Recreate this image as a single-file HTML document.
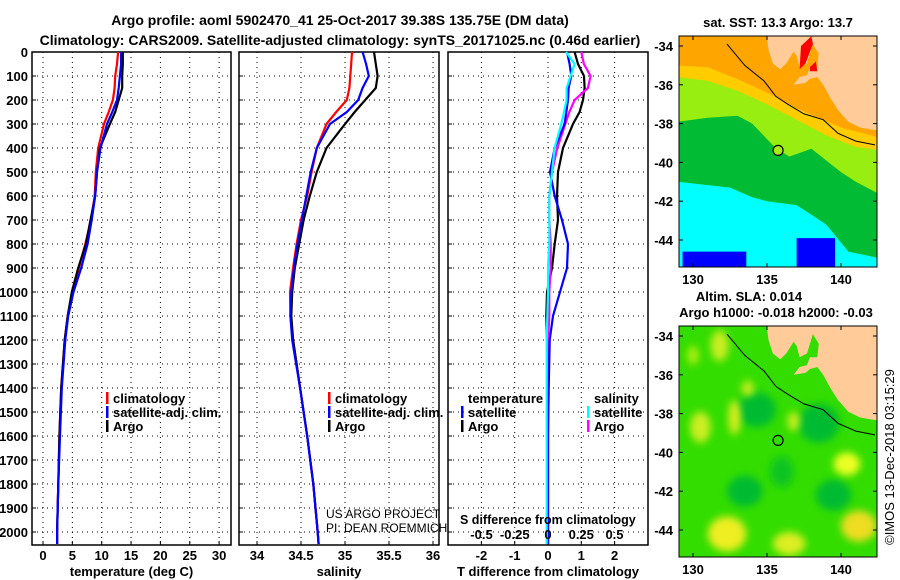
<!DOCTYPE html>
<html><head><meta charset="utf-8"><style>
html,body{margin:0;padding:0;background:#fff;}
svg{display:block;font-family:"Liberation Sans",sans-serif;}
.t{font-weight:bold;font-size:14px;fill:#000;}
.tk{font-weight:bold;font-size:13px;fill:#000;}
</style></head><body>
<svg id="c" width="900" height="580" viewBox="0 0 900 580" xmlns="http://www.w3.org/2000/svg">
<text class="t" x="340" y="25" text-anchor="middle">Argo profile: aoml 5902470_41 25-Oct-2017 39.38S 135.75E (DM data)</text>
<text class="t" x="340" y="45" text-anchor="middle">Climatology: CARS2009. Satellite-adjusted climatology: synTS_20171025.nc (0.46d earlier)</text>
<g id="panels"></g>
<g id="maps"></g>
</svg>
<script>
const depths=[0,50,100,150,200,250,300,400,500,600,700,800,900,1000,1100,1200,1400,1600,1800,2000,2050];
const tempArgo=[13.6,13.6,13.5,13.5,12.9,12.3,11.4,9.7,9.2,8.9,8.1,7.3,6.0,4.9,4.2,3.7,3.1,2.8,2.6,2.4,2.4];
const tempClim=[12.8,12.6,12.3,12.2,11.9,11.2,10.4,9.4,9.0,8.8,8.2,7.2,6.1,5.0,4.2,3.7,3.1,2.8,2.6,2.4,2.4];
const tempSat=[13.3,13.3,13.1,12.9,12.6,11.8,10.9,9.8,9.2,8.9,8.3,7.6,6.5,5.2,4.3,3.8,3.2,2.9,2.6,2.4,2.4];
const salArgo=[35.33,35.35,35.37,35.35,35.23,35.11,35.0,34.79,34.68,34.6,34.53,34.48,34.43,34.40,34.39,34.41,34.49,34.57,34.64,34.69,34.70];
const salClim=[35.08,35.07,35.06,35.05,35.02,34.9,34.79,34.68,34.62,34.57,34.5,34.45,34.41,34.375,34.38,34.41,34.49,34.57,34.64,34.69,34.70];
const salSat=[35.2,35.24,35.27,35.2,35.15,35.02,34.83,34.68,34.61,34.56,34.51,34.46,34.42,34.39,34.38,34.40,34.49,34.57,34.64,34.69,34.70];
const dTArgo=[0.8,0.9,1.08,1.1,1.05,0.95,0.75,0.45,0.3,0.27,0.3,0.2,0.12,-0.03,-0.05,-0.03,0,0,0,0,0];
const dSArgo=[0.25,0.27,0.32,0.3,0.2,0.16,0.13,0.07,0.03,0.01,0.01,0.02,0.02,0.01,0.01,0.0,0,0,0,0,0];
const dTSat=[0.57,0.65,0.7,0.62,0.6,0.55,0.5,0.2,0.06,0.2,0.42,0.6,0.57,0.36,0.15,0.05,0.02,0,0,0,0];
const dSSat=[0.135,0.2,0.17,0.14,0.14,0.12,0.1,0.05,0.03,0.01,0.01,0.01,0.0,0,-0.005,-0.01,-0.01,-0.01,-0.01,-0.01,-0.01];
const depthTicks=[0,100,200,300,400,500,600,700,800,900,1000,1100,1200,1300,1400,1500,1600,1700,1800,1900,2000];
const tempTicks=[0,5,10,15,20,25,30];
const salTicks=[34,34.5,35,35.5,36];
const dTTicks=[-2,-1,0,1,2];
const dSTicks=[-0.5,-0.25,0,0.25,0.5];
const dSTickLabels=["-0.5","-0.25","0","0.25","0.5"];

const NS="http://www.w3.org/2000/svg";
function mk(tag,attrs,parent){const e=document.createElementNS(NS,tag);for(const k in attrs)e.setAttribute(k,attrs[k]);parent.appendChild(e);return e;}
const Y=d=>52+d*0.24;
const P=document.getElementById('panels');
const panels=[
 {name:'temperature',x0:32,x1:231,X:v=>43+v*5.87,ticks:tempTicks,labels:tempTicks.map(String),xlabel:'temperature (deg C)'},
 {name:'salinity',x0:239,x1:439,X:v=>257+(v-34)*88,ticks:salTicks,labels:salTicks.map(String),xlabel:'salinity'},
 {name:'difference',x0:448,x1:648,X:v=>548+v*33.3,ticks:dTTicks,labels:dTTicks.map(String),xlabel:'T difference from climatology'}
];
const pTop=52,pBot=545;
panels.forEach((p,i)=>{
 const g=mk('g',{},P);
 
 
 p.ticks.forEach((t,j)=>{
  const x=p.X(t);
  const l=mk('line',{x1:x,x2:x,y1:pTop,y2:pBot,stroke:'#000','stroke-width':1,'stroke-dasharray':'1 4'},g);
  
  
  mk('line',{x1:x,x2:x,y1:pBot,y2:pBot-4,stroke:'#000'},g);
  const tx=mk('text',{x:x,y:pBot+15,'text-anchor':'middle',class:'tk'},g);
  tx.textContent=p.labels[j];
  
  
 });
 depthTicks.forEach(d=>{
  const y=Y(d);
  const l=mk('line',{x1:p.x0,x2:p.x1,y1:y,y2:y,stroke:'#000','stroke-width':1,'stroke-dasharray':'1 4'},g);
  
  
  mk('line',{x1:p.x0,x2:p.x0+4,y1:y,y2:y,stroke:'#000'},g);
  if(i==0){
   const tx=mk('text',{x:28,y:y+5,'text-anchor':'end',class:'tk'},g);
   tx.textContent=String(d);
   
   
  }
 });
 const r=mk('rect',{x:p.x0,y:pTop,width:p.x1-p.x0,height:pBot-pTop,fill:'none',stroke:'#000','stroke-width':1.5},g);
 
 
 const xl=mk('text',{x:(p.x0+p.x1)/2,y:576,'text-anchor':'middle',class:'tk'},g);
 xl.textContent=p.xlabel;
 
 
 p.g=g;
});
function line(p,vals,color,name,w){
 const pts=vals.map((v,k)=>p.X(v).toFixed(1)+','+Y(depths[k]).toFixed(1)).join(' ');
 const l=mk('polyline',{points:pts,fill:'none',stroke:color,'stroke-width':w||2.2},p.g);
 
 
}
line(panels[0],tempClim,'#f00','temp-climatology-line');
line(panels[0],tempArgo,'#000','temp-argo-line');
line(panels[0],tempSat,'#00f','temp-satellite-line');
line(panels[1],salClim,'#f00','sal-climatology-line');
line(panels[1],salArgo,'#000','sal-argo-line');
line(panels[1],salSat,'#00f','sal-satellite-line');
const pd=panels[2];const SX=v=>548+v*133;
line(pd,dTArgo,'#000','dT-argo-line');
line({X:SX,g:pd.g},dSArgo,'#f0f','dS-argo-line');
line(pd,dTSat,'#00f','dT-satellite-line');
line({X:SX,g:pd.g},dSSat,'#0ff','dS-satellite-line');
dSTicks.forEach((t,j)=>{
 const tx=mk('text',{x:SX(t),y:539,'text-anchor':'middle',class:'tk'},pd.g);
 tx.textContent=dSTickLabels[j];
 
 
});
const st=mk('text',{x:460,y:524,class:'tk','font-size':'12.5px',style:'font-size:12.5px'},pd.g);st.textContent='S difference from climatology';


function legend(g,x,y,color,label,name){
 const e=mk('g',{},g);
 
 
 mk('rect',{x:x,y:y-11,width:2.5,height:12,fill:color},e);
 const t=mk('text',{x:x+7,y:y,class:'tk'},e);t.textContent=label;
}
legend(panels[0].g,106,403,'#f00','climatology','legend-climatology');
legend(panels[0].g,106,417,'#00f','satellite-adj. clim.','legend-satellite');
legend(panels[0].g,106,431,'#000','Argo','legend-argo');
legend(panels[1].g,328,403,'#f00','climatology','legend-climatology');
legend(panels[1].g,328,417,'#00f','satellite-adj. clim.','legend-satellite');
legend(panels[1].g,328,431,'#000','Argo','legend-argo');
let tt=mk('text',{x:468,y:403,class:'tk'},pd.g);tt.textContent='temperature';


legend(pd.g,461,417,'#00f','satellite','legend-t-satellite');
legend(pd.g,461,431,'#000','Argo','legend-t-argo');
tt=mk('text',{x:594,y:403,class:'tk'},pd.g);tt.textContent='salinity';


legend(pd.g,587,417,'#0ff','satellite','legend-s-satellite');
legend(pd.g,587,431,'#f0f','Argo','legend-s-argo');
['US ARGO PROJECT','PI: DEAN ROEMMICH'].forEach((s,k)=>{
 const t=mk('text',{x:326,y:518+k*14,'font-size':'12px',fill:'#000'},panels[1].g);t.textContent=s;
 
 
});

// maps
const M=document.getElementById('maps');
const MX=lon=>693+(lon-130)*14.8;
function map(oy,kind){
 const MY=lat=>46+oy+(-34-lat)*19.4;
 const g=mk('g',{},M);
 
 
 const cid='clip'+oy;
 const cp=mk('clipPath',{id:cid},g);mk('rect',{x:679,y:36+oy,width:198,height:231},cp);
 const inner=mk('g',{'clip-path':'url(#'+cid+')'},g);
 const poly=(pts,fill)=>mk('polygon',{points:pts.map(p=>MX(p[0]).toFixed(1)+','+MY(p[1]).toFixed(1)).join(' '),fill:fill},inner);
 if(kind==='sst'){
  mk('rect',{x:679,y:36+oy,width:198,height:231,fill:'#00ffff'},inner);
  poly([[129,-33],[143,-33],[143,-45],[140.5,-44.6],[139,-43.2],[137,-42.2],[135,-42],[134,-41.8],[132.5,-41.3],[129,-41]],'#00bb33');
  poly([[129,-33],[143,-33],[143,-41.8],[141,-41],[140,-40.5],[138,-39.3],[136.5,-39.7],[135.5,-39.2],[134,-38],[133,-37.6],[131,-37.7],[129,-37.9]],'#99ee11');
  poly([[129,-33],[143,-33],[143,-39.4],[141,-39.2],[139,-38.6],[137,-37.8],[135,-37],[133,-36.3],[131,-35.8],[129,-35.6]],'#ffcc00');
  poly([[129,-33],[143,-33],[143,-38.8],[140,-38.2],[137,-37.2],[135,-36.4],[133,-35.7],[131,-35.1],[129,-35]],'#ffa500');
  poly([[129.3,-44.6],[133.6,-44.6],[133.6,-46],[129.3,-46]],'#0000ff');
  poly([[137,-43.9],[139.6,-43.9],[139.6,-46],[137,-46]],'#0000ff');
 } else {
  mk('rect',{x:679,y:36+oy,width:198,height:231,fill:'#33dd00'},inner);
  const f=mk('filter',{id:'bl',x:'-50%',y:'-50%',width:'200%',height:'200%'},g);mk('feGaussianBlur',{stdDeviation:4},f);
  const blobs=[[134.3,-37.8,1.3,0.9,'#00bb33'],[138.5,-38.5,1.4,1.0,'#00bb33'],[133.5,-42,1.2,0.8,'#00bb33'],[139.5,-42.2,1.2,0.8,'#00bb33'],[136,-41,0.8,0.8,'#11c522'],
   [130.5,-38.7,0.7,0.8,'#ccee22'],[132.8,-38.2,0.4,0.9,'#ddee22'],[136.8,-38.4,0.4,0.5,'#ccee22'],[140.4,-40.6,0.9,0.6,'#eeff22'],[132.3,-44.2,1.3,0.9,'#eeee22'],
   [136.5,-44.7,1.1,0.6,'#ddee22'],[141.2,-43.8,1.2,0.8,'#eedd22'],[131.8,-34.5,0.6,0.8,'#ccee22'],[133.7,-36.7,0.4,0.4,'#ccee22'],[130,-35,0.4,0.5,'#aaee11']];
  blobs.forEach(b=>{mk('ellipse',{cx:MX(b[0]),cy:MY(b[1]),rx:b[2]*14.8,ry:b[3]*19.4,fill:b[4],filter:'url(#bl)'},inner);});
 }
 poly([[134.9,-33],[143,-33],[143,-38.4],[142,-38.3],[141.3,-38.2],[140.5,-37.9],[139.8,-37.3],[139.3,-36.7],[138.8,-36.0],[138.4,-35.6],[137.9,-35.7],[137.6,-35.9],[136.8,-36.0],[137.2,-35.6],[137.7,-35.5],[137.9,-35.1],[138.4,-35.1],[138.5,-34.4],[138.1,-33.9],[137.7,-34.9],[137.2,-35.1],[137.0,-34.5],[136.8,-34.3],[136.3,-34.9],[135.9,-35.2],[135.4,-34.9],[135.1,-34.2]],'#ffcc99');
 if(kind==='sst'){
  poly([[137.3,-34],[138,-33.5],[138.1,-33.9],[137.6,-34.9],[137.2,-35.2]],'#ff0000');
  poly([[137.9,-35.1],[138.3,-34.8],[138.4,-35.3],[137.9,-35.3]],'#ff0000');
 }
 const coast=[[132.3,-33.9],[133.5,-35],[134.8,-35.8],[135.6,-36.6],[136.4,-37],[137.5,-37.5],[138.8,-37.8],[139.8,-38.5],[141,-38.9],[142.3,-39.1]];
 const cl=mk('polyline',{points:coast.map(p=>MX(p[0]).toFixed(1)+','+MY(p[1]).toFixed(1)).join(' '),fill:'none',stroke:'#000','stroke-width':1},inner);
 
 
 const c=mk('circle',{cx:MX(135.75),cy:MY(-39.38),r:5,fill:kind==='sst'?'#aaee11':'none',stroke:'#000','stroke-width':1.2},g);
 
 
 mk('rect',{x:679,y:36+oy,width:198,height:231,fill:'none',stroke:'#000','stroke-width':1},g);
 [-34,-36,-38,-40,-42,-44].forEach(lat=>{
  const y=MY(lat);
  mk('line',{x1:679,x2:683,y1:y,y2:y,stroke:'#000'},g);mk('line',{x1:873,x2:877,y1:y,y2:y,stroke:'#000'},g);
  const t=mk('text',{x:673,y:y+5,'text-anchor':'end',class:'tk'},g);t.textContent=String(lat);
  
  
 });
 [130,135,140].forEach(lon=>{
  const x=MX(lon);
  mk('line',{x1:x,x2:x,y1:36+oy,y2:40+oy,stroke:'#000'},g);mk('line',{x1:x,x2:x,y1:263+oy,y2:267+oy,stroke:'#000'},g);
  const t=mk('text',{x:x,y:284+oy,'text-anchor':'middle',class:'tk'},g);t.textContent=String(lon);
  
  
 });
 return g;
}
const g1=map(0,'sst');
let t=mk('text',{x:778,y:27,'text-anchor':'middle',class:'tk'},g1);t.textContent='sat. SST: 13.3 Argo: 13.7';


const g2=map(290,'sla');
t=mk('text',{x:749,y:301,'text-anchor':'middle',class:'tk'},g2);t.textContent='Altim. SLA: 0.014';


t=mk('text',{x:776,y:317,'text-anchor':'middle',class:'tk'},g2);t.textContent='Argo h1000: -0.018 h2000: -0.03';


t=mk('text',{x:0,y:0,'text-anchor':'middle','font-size':'13px',fill:'#000',transform:'translate(894,457) rotate(-90)'},M);t.textContent='©IMOS 13-Dec-2018 03:15:29';


</script>
</body></html>
